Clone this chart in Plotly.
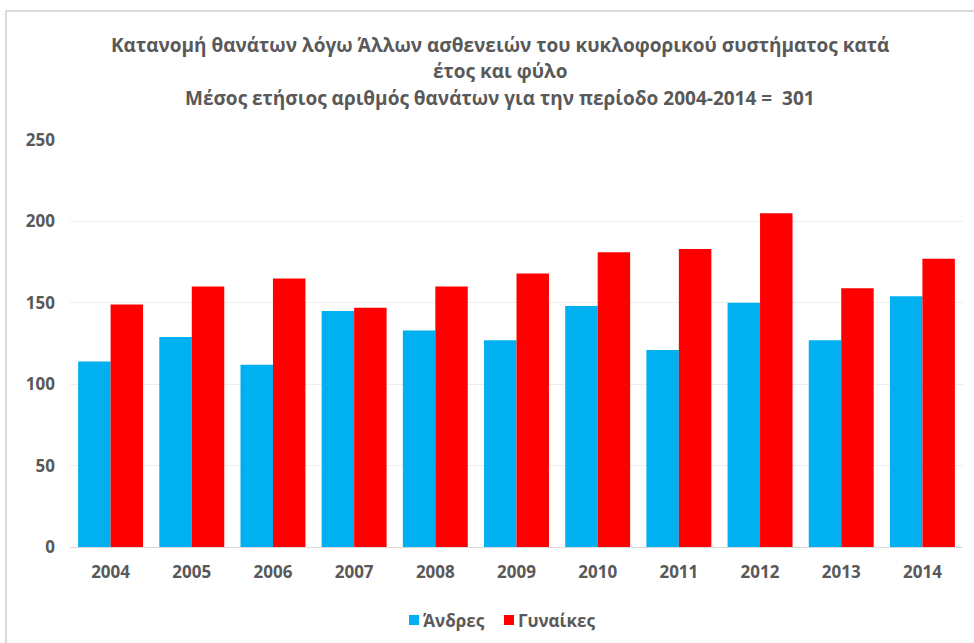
import plotly.graph_objects as go

years = ["2004", "2005", "2006", "2007", "2008", "2009", "2010", "2011", "2012", "2013", "2014"]
men = [114, 129, 112, 145, 133, 127, 148, 121, 150, 127, 154]
women = [149, 160, 165, 147, 160, 168, 181, 183, 205, 159, 177]
y_ticks = [0, 50, 100, 150, 200, 250]
series_names = ["Άνδρες", "Γυναίκες"]
series_colors = ["#00B0F0", "#FF0000"]
title_lines = [
    "Κατανομή θανάτων λόγω Άλλων ασθενειών του κυκλοφορικού συστήματος κατά",
    "έτος και φύλο",
    "Μέσος ετήσιος αριθμός θανάτων για την περίοδο 2004-2014 =  301",
]

W, H = 974, 643
L, R, T, B = 70, 11, 140, 96
pw, ph = W - L - R, H - T - B

def px_x(x):
    return (x - L) / pw

def px_y(y):
    return (H - B - y) / ph

FONT = "Open Sans"
GRAY = "#595959"

fig = go.Figure()
fig.add_trace(go.Bar(x=years, y=men, name=series_names[0], marker_color=series_colors[0]))
fig.add_trace(go.Bar(x=years, y=women, name=series_names[1], marker_color=series_colors[1]))

annotations = []
for line, ypix in zip(title_lines, [45, 71, 98]):
    annotations.append(dict(
        text=line, x=px_x(500), y=px_y(ypix),
        xref="paper", yref="paper", xanchor="center", yanchor="middle",
        showarrow=False, font=dict(family=FONT, size=19, color=GRAY, weight="bold"),
    ))

shapes = [dict(
    type="rect", xref="paper", yref="paper",
    x0=px_x(6), x1=px_x(1100), y0=px_y(800), y1=px_y(11),
    line=dict(color="#d9d9d9", width=2), fillcolor="rgba(0,0,0,0)", layer="below",
)]

# manual legend (symbol + label)
for name, color, xpix in zip(series_names, series_colors, [409, 504]):
    shapes.append(dict(
        type="rect", xref="paper", yref="paper",
        x0=px_x(xpix), x1=px_x(xpix + 10), y0=px_y(625), y1=px_y(615),
        line=dict(width=0), fillcolor=color,
    ))
    annotations.append(dict(
        text=name, x=px_x(xpix + 12), y=px_y(620), xref="paper", yref="paper",
        xanchor="left", yanchor="middle", showarrow=False,
        font=dict(family=FONT, size=17, color=GRAY, weight="bold"),
    ))

fig.update_layout(
    width=W, height=H,
    margin=dict(l=L, r=R, t=T, b=B, autoexpand=False),
    paper_bgcolor="white", plot_bgcolor="white",
    barmode="group", bargap=0.2, bargroupgap=0,
    annotations=annotations,
    showlegend=False,
    shapes=shapes,
)

fig.update_xaxes(
    type="category", showgrid=False, showline=True, linecolor="#d9d9d9", linewidth=1,
    ticks="", tickfont=dict(family=FONT, size=17, color=GRAY, weight="bold"),
    ticklabelstandoff=10, automargin=False, fixedrange=True,
)
fig.update_yaxes(
    range=[0, 250], tickvals=y_ticks, showgrid=True, gridcolor="#eeeeee", gridwidth=1,
    zeroline=False, showline=False, ticks="",
    tickfont=dict(family=FONT, size=17, color=GRAY, weight="bold"),
    ticklabelstandoff=14, automargin=False, fixedrange=True,
)
fig.update_traces(marker_line_width=0)

fig.write_html(
    "out.html",
    config={"displayModeBar": False},
    post_script="document.body.style.margin='0';document.body.style.overflow='hidden';",
)
